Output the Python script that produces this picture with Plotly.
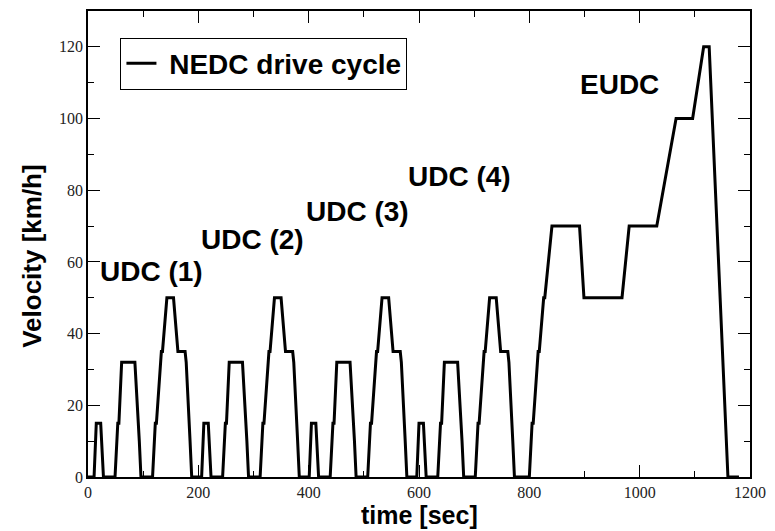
import plotly.graph_objects as go

# NEDC drive cycle breakpoints (time in s, velocity in km/h)
time_s = [
    0, 11, 15, 23, 28, 49, 54, 56, 61, 85, 93, 96, 117, 122, 124, 133, 135, 143, 155, 163, 176, 178, 185, 188,
    195, 206, 210, 218, 223, 244, 249, 251, 256, 280, 288, 291, 312, 317, 319, 328, 330, 338, 350, 358, 371, 373, 380, 383,
    390, 401, 405, 413, 418, 439, 444, 446, 451, 475, 483, 486, 507, 512, 514, 523, 525, 533, 545, 553, 566, 568, 575, 578,
    585, 596, 600, 608, 613, 634, 639, 641, 646, 670, 678, 681, 702, 707, 709, 718, 720, 728, 740, 748, 761, 763, 770, 773,
    780, 800, 805, 807, 816, 818, 826, 828, 841, 891, 899, 968, 981, 1031, 1066, 1096, 1116, 1126, 1160, 1180,
]
velocity = [
    0, 0, 15, 15, 0, 0, 15, 15, 32, 32, 10, 0, 0, 15, 15, 35, 35, 50, 50, 35, 35, 32, 10, 0,
    0, 0, 15, 15, 0, 0, 15, 15, 32, 32, 10, 0, 0, 15, 15, 35, 35, 50, 50, 35, 35, 32, 10, 0,
    0, 0, 15, 15, 0, 0, 15, 15, 32, 32, 10, 0, 0, 15, 15, 35, 35, 50, 50, 35, 35, 32, 10, 0,
    0, 0, 15, 15, 0, 0, 15, 15, 32, 32, 10, 0, 0, 15, 15, 35, 35, 50, 50, 35, 35, 32, 10, 0,
    0, 0, 15, 15, 35, 35, 50, 50, 70, 70, 50, 50, 70, 70, 100, 100, 120, 120, 0, 0,
]

# Phase labels and their positions
phase_labels = ["UDC (1)", "UDC (2)", "UDC (3)", "UDC (4)", "EUDC"]
phase_x = [116, 299, 489, 674, 963]
phase_y = [57.2, 66.2, 74.2, 83.9, 109.5]

x_ticks = [0, 200, 400, 600, 800, 1000, 1200]
y_ticks = [0, 20, 40, 60, 80, 100, 120]

BOLD = "Liberation Sans, Arial, sans-serif"
SERIF = "Liberation Serif, Times New Roman, serif"

fig = go.Figure()
fig.add_trace(go.Scatter(
    x=time_s, y=velocity, mode="lines", name="&nbsp;<b>NEDC drive cycle</b>",
    line=dict(color="black", width=3),
))

for lab, xx, yy in zip(phase_labels, phase_x, phase_y):
    fig.add_annotation(x=xx, y=yy, text=f"<b>{lab}</b>", showarrow=False,
                       xref="x", yref="y", font=dict(family=BOLD, size=28, color="black"))

# axis titles
fig.add_annotation(x=0.5, y=-0.1145, xref="paper", yref="paper", text="<b>time [sec]</b>",
                   showarrow=False, xanchor="center", yanchor="bottom", borderpad=0,
                   font=dict(family=BOLD, size=25, color="black"))
fig.add_annotation(x=-0.085, y=0.474, xref="paper", yref="paper", text="<b>Velocity [km/h]</b>",
                   showarrow=False, textangle=-90, xanchor="center", yanchor="middle",
                   font=dict(family=BOLD, size=26, color="black"))

axis_common = dict(
    showline=True, linecolor="black", linewidth=1.5, mirror="allticks",
    ticks="inside", ticklen=12, tickwidth=1, tickcolor="black",
    showgrid=False, zeroline=False,
    tickfont=dict(family=SERIF, size=16, color="#222"),
)

fig.update_xaxes(range=[0, 1200], tickvals=x_ticks,
                 minor=dict(ticks="inside", ticklen=6, tickwidth=1, tickcolor="black", dtick=100, tick0=0, showgrid=False),
                 **axis_common)
fig.update_yaxes(range=[0, 130], tickvals=y_ticks,
                 minor=dict(ticks="inside", ticklen=6, tickwidth=1, tickcolor="black", dtick=10, tick0=0, showgrid=False),
                 **axis_common)

fig.update_layout(
    width=775, height=531,
    margin=dict(l=88, r=19, t=9, b=54),
    plot_bgcolor="white", paper_bgcolor="white",
    showlegend=True,
    legend=dict(x=0.049, y=0.943, xanchor="left", yanchor="top",
                bgcolor="white", bordercolor="black", borderwidth=1,
                font=dict(family=BOLD, size=28, color="black"),
                itemwidth=30),
)

fig.write_html("out.html", config={"displayModeBar": False},
               post_script="document.body.style.margin='0';document.body.style.padding='0';")
